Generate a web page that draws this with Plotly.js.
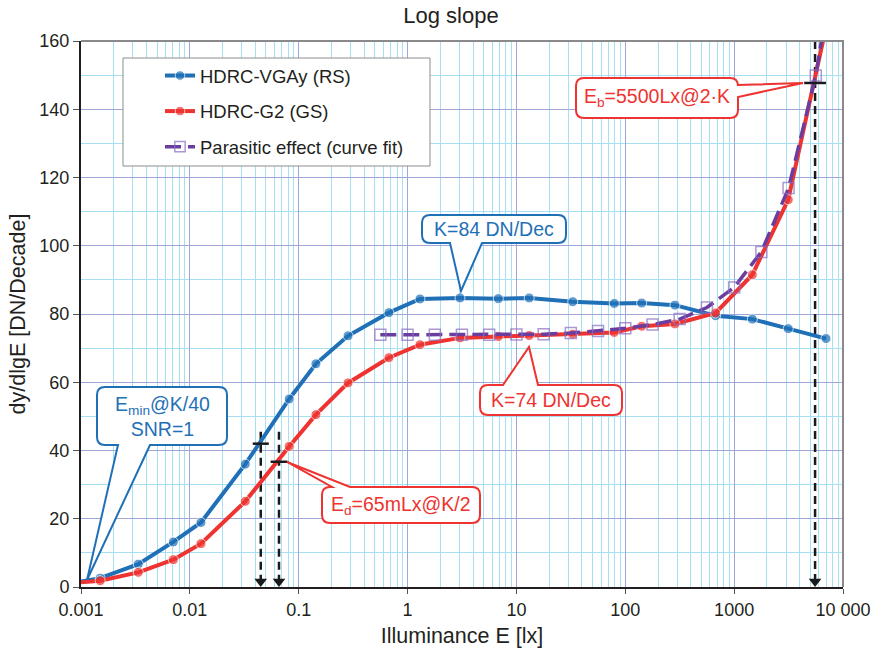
<!DOCTYPE html>
<html>
<head>
<meta charset="utf-8">
<script src="https://cdn.plot.ly/plotly-3.0.1.min.js"></script>
<style>html,body{margin:0;padding:0;background:#fff;}#chart{width:872px;height:652px;}</style>
</head>
<body>
<div id="chart"></div>
<script>
// ---------- data ----------
const illum = [0.001, 0.0015, 0.00336, 0.00705, 0.01265, 0.0323, 0.0818, 0.144, 0.284, 0.674, 1.30, 3.03, 6.82, 13.1, 32.9, 79.2, 141.5, 286, 676, 1469, 3140, 6980];
const vgaySlope = [1.6, 2.6, 6.7, 13.2, 18.9, 36.0, 55.1, 65.4, 73.6, 80.4, 84.4, 84.7, 84.5, 84.7, 83.6, 83.1, 83.2, 82.6, 79.5, 78.5, 75.7, 72.8];
const g2Slope   = [1.4, 1.85, 4.3, 8.0, 12.7, 25.1, 41.2, 50.5, 59.8, 67.2, 71.0, 73.0, 73.4, 73.7, 74.1, 74.6, 76.4, 77.1, 80.3, 91.5, 113.5, 164];
const fitIllum = [0.562, 1, 1.78, 3.16, 5.62, 10, 17.8, 31.6, 56.2, 100, 178, 316, 562, 1000, 1778, 3162, 5623, 6800];
const fitSlope = [73.9, 73.9, 73.9, 73.9, 73.9, 74.0, 74.1, 74.4, 75.0, 75.8, 76.9, 78.5, 81.9, 87.8, 98.2, 116.9, 149.9, 166];
// characteristic points: E at K/40 (VGAy), E_d at K/2 (G2), E_b at 2K (G2)
const markIllum = [0.0448, 0.0659, 5540];
const markLevel = [42, 36.7, 147.7];
const markTop   = [45.5, 45.5, 160];
const xTickVals = [0.001, 0.01, 0.1, 1, 10, 100, 1000, 10000];
const xTickText = ['0.001', '0.01', '0.1', '1', '10', '100', '1000', '10 000'];
const seriesNames = ['HDRC-VGAy (RS)', 'HDRC-G2 (GS)', 'Parasitic effect (curve fit)'];

// ---------- styles ----------
const FONT = 'Liberation Sans, Arial, Helvetica, sans-serif';
const TXT = '#231f20';
const BLUE = '#1f70b7', RED = '#ee3330', PURPLE = '#6a3d9f', PURPLE_M = '#8a6cc0', BLACK = '#1a1a1a';
const MAJ = '#a0a6d6', MIN = '#a8e0f3';

// plot area in pixels (for decoration placement)
const PL = 81, PT = 41, PW = 762, PH = 546;
const Y_MAX = 160;
const xp = px => (px - PL) / PW;
const yp = py => (PT + PH - py) / PH;
const P = (x, y) => xp(x).toFixed(5) + ',' + yp(y).toFixed(5);

function calloutPath(b, r, w) {
  const [x0, y0, x1, y1] = b;
  let d = 'M' + P(x0 + r, y0);
  if (w.side === 'top') d += ' L' + P(w.a, y0) + ' L' + P(w.tip[0], w.tip[1]) + ' L' + P(w.b, y0);
  d += ' L' + P(x1 - r, y0) + ' Q' + P(x1, y0) + ' ' + P(x1, y0 + r);
  if (w.side === 'right') d += ' L' + P(x1, w.a) + ' L' + P(w.tip[0], w.tip[1]) + ' L' + P(x1, w.b);
  d += ' L' + P(x1, y1 - r) + ' Q' + P(x1, y1) + ' ' + P(x1 - r, y1);
  if (w.side === 'bottom') d += ' L' + P(w.b, y1) + ' L' + P(w.tip[0], w.tip[1]) + ' L' + P(w.a, y1);
  d += ' L' + P(x0 + r, y1) + ' Q' + P(x0, y1) + ' ' + P(x0, y1 - r);
  d += ' L' + P(x0, y0 + r) + ' Q' + P(x0, y0) + ' ' + P(x0 + r, y0) + ' Z';
  return d;
}

const callouts = [
  {box: [97, 387, 227, 445], w: {side: 'bottom', a: 118, b: 150, tip: [87, 580]}, color: BLUE,
   text: 'E<sub>min</sub>@K/40<br>SNR=1', c: [162, 416]},
  {box: [422, 215, 566, 243], w: {side: 'bottom', a: 450, b: 482, tip: [461, 291]}, color: BLUE,
   text: 'K=84 DN/Dec', c: [494, 229]},
  {box: [480, 385, 622, 415], w: {side: 'top', a: 503, b: 538, tip: [529, 347]}, color: RED,
   text: 'K=74 DN/Dec', c: [551, 400]},
  {box: [322, 487, 480, 523], w: {side: 'top', a: 332, b: 350, tip: [287, 462]}, color: RED,
   text: 'E<sub>d</sub>=65mLx@K/2', c: [401, 505]},
  {box: [576, 78, 738, 118], w: {side: 'right', a: 85, b: 97, tip: [803, 83]}, color: RED,
   text: 'E<sub>b</sub>=5500Lx@2·K', c: [657, 98]}
];

const shapes = [
  // legend frame
  {type: 'rect', xref: 'paper', yref: 'paper', x0: xp(123), x1: xp(430), y0: yp(166), y1: yp(58),
   fillcolor: '#ffffff', line: {color: '#8c8c8c', width: 1}, layer: 'above'},
  // top and right frame
  {type: 'path', xref: 'paper', yref: 'paper', path: 'M0,1 L1,1 L1,0', line: {color: '#8a8a8a', width: 2}, layer: 'above'}
];
const annotations = [];
callouts.forEach(c => {
  shapes.push({type: 'path', xref: 'paper', yref: 'paper', path: calloutPath(c.box, 8, c.w),
    fillcolor: '#ffffff', line: {color: c.color, width: 2}, layer: 'above'});
  annotations.push({xref: 'paper', yref: 'paper', x: xp(c.c[0]), y: yp(c.c[1]), text: c.text,
    showarrow: false, xanchor: 'center', yanchor: 'middle', font: {family: FONT, size: 19.5, color: c.color}});
});

const traces = [];
// dashed verticals
markIllum.forEach((e, i) => {
  traces.push({x: [e, e], y: [markTop[i], 0], mode: 'lines', showlegend: false, hoverinfo: 'skip',
    line: {color: BLACK, width: 2.5, dash: '8px,5px'}});
});
traces.push({x: illum, y: vgaySlope, name: seriesNames[0], legendgroup: 'a', mode: 'lines+markers',
  line: {color: BLUE, width: 4}, marker: {color: BLUE, size: illum.map((v, i) => i === 0 ? 0 : 10)}});
traces.push({x: illum, y: g2Slope, name: seriesNames[1], legendgroup: 'b', mode: 'lines+markers',
  line: {color: RED, width: 4}, marker: {color: RED, size: illum.map((v, i) => i === 0 ? 0 : 10)}});
traces.push({x: fitIllum, y: fitSlope, name: seriesNames[2], legendgroup: 'c', mode: 'lines+markers',
  line: {color: PURPLE, width: 3.5, dash: '16px,7px'},
  marker: {symbol: 'square-open', color: PURPLE_M, size: fitIllum.map((v, i) => i === fitIllum.length - 1 ? 0 : 11), line: {width: 1.5, color: PURPLE_M}}});
// horizontal markers at the characteristic points
const halfW = [0.074, 0.077, 0.1];
markIllum.forEach((e, i) => {
  traces.push({x: [e / Math.pow(10, halfW[i]), e * Math.pow(10, halfW[i])], y: [markLevel[i], markLevel[i]],
    mode: 'lines', showlegend: false, hoverinfo: 'skip', line: {color: BLACK, width: 2.5}});
});
// arrowheads at the axis (triangle tip sits on y = 0)
const ARROW = 11;
traces.push({x: markIllum, y: markIllum.map(() => (ARROW / 2) * Y_MAX / PH), mode: 'markers', showlegend: false,
  hoverinfo: 'skip', cliponaxis: false,
  marker: {symbol: 'triangle-down', size: ARROW, color: BLACK, line: {width: 0}}});

const minorX = [];
for (let d = -3; d < 4; d++) for (let k = 2; k <= 9; k++) minorX.push(k * Math.pow(10, d));

const layout = {
  width: 872, height: 652,
  margin: {l: PL, r: 872 - PL - PW, t: PT, b: 652 - PT - PH},
  paper_bgcolor: '#ffffff', plot_bgcolor: '#ffffff',
  font: {family: FONT, color: TXT, size: 18},
  title: {text: 'Log slope', font: {family: FONT, size: 22, color: TXT}, x: xp(451), xref: 'paper', xanchor: 'center',
    y: 1 - 15 / 652, yref: 'container', yanchor: 'middle'},
  showlegend: true,
  legend: {x: xp(160), y: yp(57), xanchor: 'left', yanchor: 'top', bgcolor: 'rgba(0,0,0,0)', borderwidth: 0,
    font: {family: FONT, size: 18.5, color: TXT}, traceorder: 'grouped', tracegroupgap: 8.5, itemwidth: 30},
  xaxis: {type: 'log', range: [-3, 4], tickmode: 'array', tickvals: xTickVals, ticktext: xTickText,
    showgrid: true, gridcolor: MAJ, gridwidth: 1, zeroline: false,
    minor: {tickmode: 'array', tickvals: minorX, showgrid: true, gridcolor: MIN, gridwidth: 1, ticklen: 0},
    showline: true, linecolor: TXT, linewidth: 2, ticks: 'outside', ticklen: 5, tickcolor: '#555', tickwidth: 1,
    tickfont: {family: FONT, size: 18, color: TXT},
    title: {text: 'Illuminance E [lx]', font: {family: FONT, size: 21.5, color: TXT}, standoff: 9},
    automargin: false},
  yaxis: {range: [0, Y_MAX], tickmode: 'linear', tick0: 0, dtick: 20,
    showgrid: true, gridcolor: MAJ, gridwidth: 1, zeroline: false,
    minor: {tick0: 0, dtick: 10, showgrid: true, gridcolor: MIN, gridwidth: 1, ticklen: 0},
    showline: true, linecolor: TXT, linewidth: 2, ticks: 'outside', ticklen: 6, tickcolor: '#555', tickwidth: 1,
    tickfont: {family: FONT, size: 18, color: TXT},
    title: {text: 'dy/dlgE [DN/Decade]', font: {family: FONT, size: 21.5, color: TXT}, standoff: 8},
    automargin: false},
  shapes: shapes,
  annotations: annotations
};

Plotly.newPlot('chart', traces, layout, {displayModeBar: false, staticPlot: true});
</script>
</body>
</html>
